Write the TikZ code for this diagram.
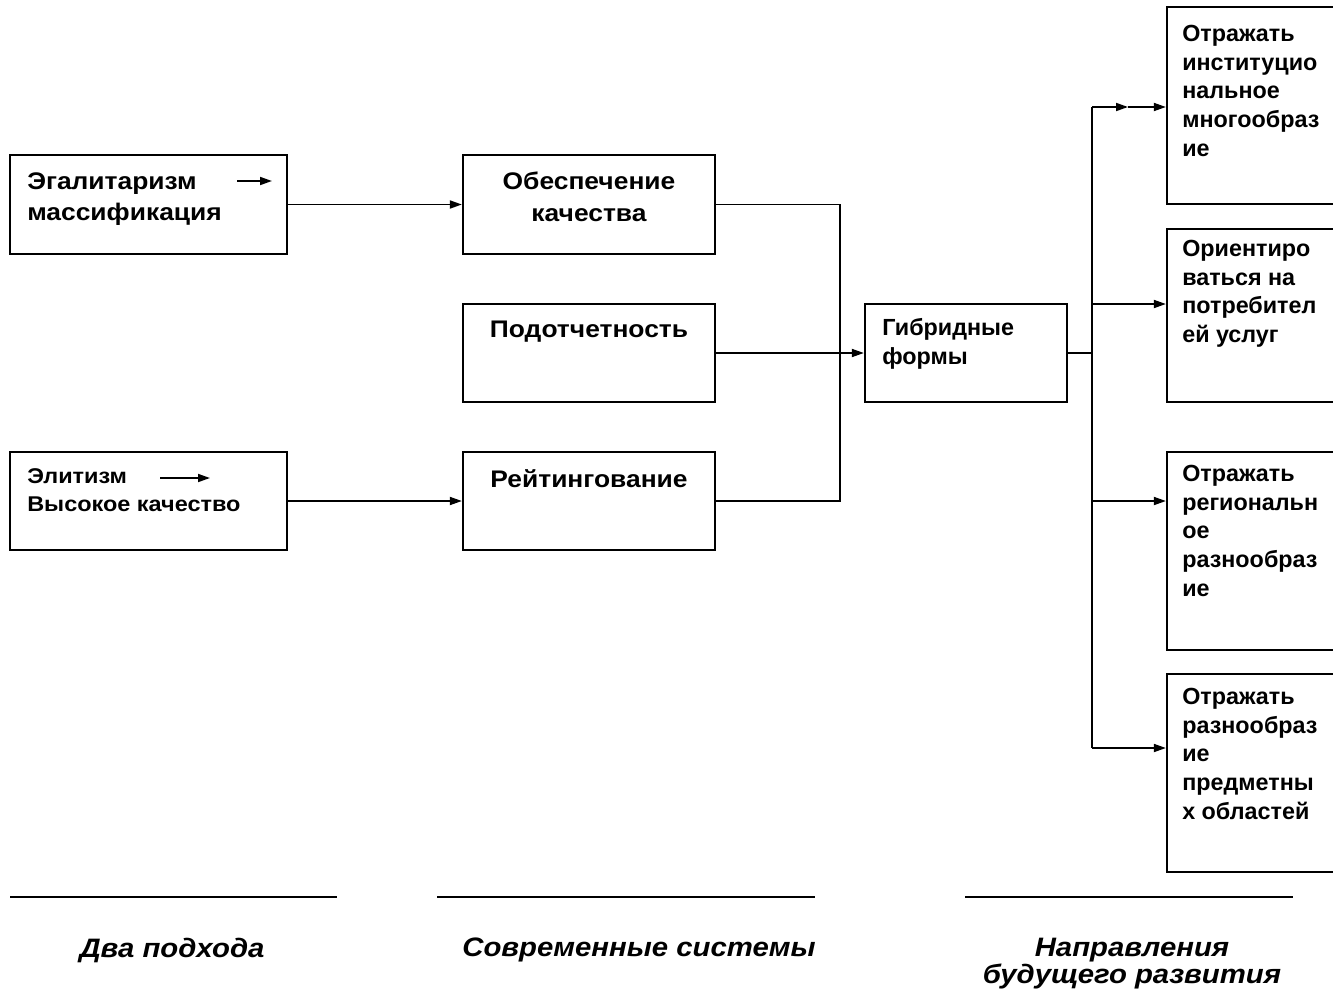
\documentclass[tikz,border=0pt]{standalone}
\usepackage{fontspec}
\setmainfont{Liberation Sans}
\newfontfamily\wsans[FakeStretch=1.1]{Liberation Sans}
\usetikzlibrary{arrows.meta,fit}
\newcommand\fbig{\wsans\fontsize{18}{23.5}\selectfont\bfseries}
\newcommand\fmid{\fontsize{17.5}{21.5}\selectfont\bfseries}
\newcommand\fsml{\wsans\fontsize{16}{21}\selectfont\bfseries}
\newcommand\flab{\wsans\fontsize{20}{20.5}\selectfont\bfseries\itshape}
\begin{document}
\begin{tikzpicture}[x=0.75pt,y=-0.75pt,
  box/.style={draw,line width=1.7pt,inner sep=0pt},
  conn/.style={line width=1.3pt},
  arr/.style={conn,-{Triangle[length=9pt,width=6pt]}},
  ltxt/.style={inner sep=0pt,anchor=north west,align=left},
  ctxt/.style={inner sep=0pt,anchor=north,align=center},
  lab/.style={inner sep=0pt,anchor=north,align=center,font=\flab}]
\useasboundingbox (0,0) rectangle (1333,999);
\clip (0,0) rectangle (1333,999);
% boxes
\node[box,fit={(10,155) (287,254)}] (A) {};
\node[box,fit={(10,452) (287,550)}] (B) {};
\node[box,fit={(463,155) (715,254)}] (C) {};
\node[box,fit={(463,304) (715,402)}] (D) {};
\node[box,fit={(463,452) (715,550)}] (E) {};
\node[box,fit={(865,304) (1067,402)}] (F) {};
\node[box,fit={(1167,7) (1350,204)}] (G1) {};
\node[box,fit={(1167,229) (1350,402)}] (G2) {};
\node[box,fit={(1167,452) (1350,650)}] (G3) {};
\node[box,fit={(1167,674) (1350,872)}] (G4) {};
% texts
\node[ltxt,font=\fbig] (tA) at (27,172) {Эгалитаризм\\массификация};
\node[ltxt,font=\fsml] (tB) at (27,468) {Элитизм\\Высокое качество};
\node[ctxt,font=\fbig] (tC) at (589,172) {Обеспечение\\качества};
\node[ctxt,font=\fbig] (tD) at (589,321) {Подотчетность};
\node[ctxt,font=\fbig] (tE) at (589,469) {Рейтингование};
\node[ltxt,font=\fmid] (tF) at (882,318) {Гибридные\\формы};
\node[ltxt,font=\fmid] (tG1) at (1182,25) {Отражать\\институцио\\нальное\\многообраз\\ие};
\node[ltxt,font=\fmid] (tG2) at (1182,240) {Ориентиро\\ваться на\\потребител\\ей услуг};
\node[ltxt,font=\fmid] (tG3) at (1182,465) {Отражать\\региональн\\ое\\разнообраз\\ие};
\node[ltxt,font=\fmid] (tG4) at (1182,688) {Отражать\\разнообраз\\ие\\предметны\\х областей};
% arrows inside text
\coordinate (a1) at (237,181); \coordinate (a2) at (272,181);
\coordinate (b1) at (160,478); \coordinate (b2) at (210,478);
\draw[arr] (a1) -- (a2);
\draw[arr] (b1) -- (b2);
% connectors
\draw[arr] (A.east) -- (C.west);
\draw[arr] (B.east) -- (E.west);
\coordinate (j) at (840,353);
\draw[conn] (C.east) -| (j) |- (E.east);
\draw[arr] (D.east) -- (F.west);
\coordinate (t0) at (1092,353);
\coordinate (t1) at (1092,107);
\coordinate (t2) at (1092,304);
\coordinate (t3) at (1092,501);
\coordinate (t4) at (1092,748);
\coordinate (m1) at (1128,107);
\draw[conn] (F.east) -- (t0);
\draw[conn] (t1) -- (t4);
\draw[arr] (t1) -- (m1);
\draw[arr] (m1) -- (m1 -| G1.west);
\draw[arr] (t2) -- (t2 -| G2.west);
\draw[arr] (t3) -- (t3 -| G3.west);
\draw[arr] (t4) -- (t4 -| G4.west);
% bottom
\coordinate (l1a) at (10,897); \coordinate (l1b) at (337,897);
\coordinate (l2a) at (437,897); \coordinate (l2b) at (815,897);
\coordinate (l3a) at (965,897); \coordinate (l3b) at (1293,897);
\draw[conn] (l1a) -- (l1b);
\draw[conn] (l2a) -- (l2b);
\draw[conn] (l3a) -- (l3b);
\node[lab] (L1) at (172,938) {Два подхода};
\node[lab] (L2) at (639,938) {Современные системы};
\node[lab] (L3) at (1132,938) {Направления\\будущего развития};
\end{tikzpicture}
\end{document}
